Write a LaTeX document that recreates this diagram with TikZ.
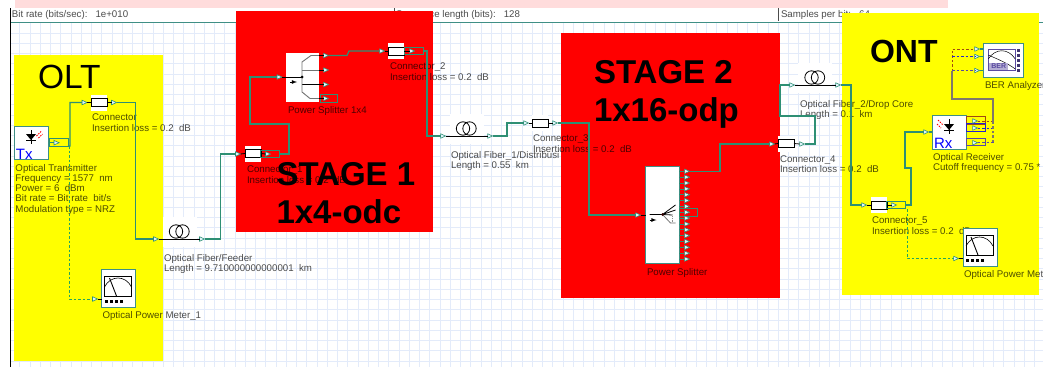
\documentclass[tikz,border=0pt]{standalone}
\usepackage{fontspec}
\setmainfont{Liberation Sans}
\usetikzlibrary{shapes.geometric}

\definecolor{wirecol}{HTML}{2E8F74}
\definecolor{gridcol}{HTML}{E3EBFA}
\definecolor{framecol}{HTML}{3F8F85}
\definecolor{pinkcol}{HTML}{FFDCDC}
\definecolor{oltyellow}{HTML}{FFFF00}
\definecolor{stagered}{HTML}{FF0000}
\definecolor{redwire}{HTML}{A04A10}
\definecolor{bluewire}{HTML}{2424D0}
\definecolor{purpwire}{HTML}{5A4AA0}
\definecolor{greywire}{HTML}{80786A}

\begin{document}
\begin{tikzpicture}[
  x=1pt,y=-1pt,
  every node/.style={inner sep=0pt,outer sep=0pt},
  wire/.style={wirecol,line width=1.2pt},
  stub/.style={black,line width=0.8pt},
  dashwire/.style={wirecol!80!green,line width=1pt,dash pattern=on 2.5pt off 2pt},
  busred/.style={redwire,line width=1pt,dash pattern=on 2.5pt off 2pt},
  busblue/.style={bluewire,line width=1pt,dash pattern=on 2.5pt off 2pt},
  buspurp/.style={purpwire,line width=1pt,dash pattern=on 2.5pt off 2pt},
  panel/.style={anchor=north west,fill=#1},
  port/.style={isosceles triangle,isosceles triangle stretches,minimum width=4.5pt,minimum height=5pt,
    draw=wirecol,fill=cyan!12,line width=0.6pt},
  loopbox/.style={draw=wirecol,line width=1pt,minimum width=19pt,minimum height=7.5pt},
  devlabel/.style={anchor=north west,align=left,text=black,text opacity=.7,
    font=\fontsize{9.7}{10.3}\selectfont},
  toptext/.style={anchor=west,text=black!70,font=\fontsize{9.7}{10.3}\selectfont},
  bigtitle/.style={anchor=north west,align=left,text=black,font=\fontsize{33}{38}\selectfont\bfseries},
  devname/.style={anchor=south west,text=blue,font=\fontsize{15}{15}\selectfont},
  connbox/.style={fill=white,minimum width=16pt,minimum height=16pt},
  fiberbox/.style={fill=white,minimum width=34pt,minimum height=30pt},
  devbox/.style={draw=framecol,fill=white,line width=1pt,minimum width=#1},
  connicon/.pic={
    \draw[black,line width=1pt,fill=white] (0,4) rectangle (16,12);
  },
  fibericon/.pic={
    \draw[black,line width=0.8pt] (13.5,14.5) circle (6.7pt) (20,14.5) circle (6.7pt);
    \draw[black,line width=1pt] (0,22) -- (34,22);
  },
  metericon/.pic={
    \draw[black,line width=0.9pt] (3,7) rectangle (30,27);
    \draw[black,line width=0.6pt] (3,18) .. controls (9,6) and (24,6) .. (30,18);
    \draw[black,line width=0.9pt] (8,9) -- (15,27);
    \foreach \sq in {3,8,13,18} \fill[black] (\sq,31) rectangle ++(3,3);
  },
  bericon/.pic={
    \draw[purpwire,line width=0.8pt] (5,6) rectangle (32,27);
    \draw[black,line width=0.5pt] (5,16) .. controls (12,5) and (25,5) .. (32,16);
    \draw[black,line width=0.5pt] (5,12) .. controls (14,16) and (24,20) .. (32,26);
    \fill[purpwire!45] (6,20) rectangle (25,27);
    \node[text=purpwire,font=\fontsize{7}{7}\selectfont\bfseries] (bertag) at (15.5,23.5) {BER};
    \foreach \sq in {6,11,16,21,26} \fill[purpwire!70!black] (34,\sq) rectangle ++(3,3);
  },
  txicon/.pic={
    \fill[black] (11.5,8) -- (21.5,8) -- (16.5,14) -- cycle;
    \draw[black,line width=1pt] (16.5,4) -- (16.5,18) (11.5,14.5) -- (21.5,14.5);
    \draw[red,line width=0.8pt,dash pattern=on 1.5pt off 1pt] (22,10) -- (27,5) (24,12) -- (28,8);
  },
  rxicon/.pic={
    \fill[black] (12,9) -- (22,9) -- (17,15) -- cycle;
    \draw[black,line width=1pt] (17,4) -- (17,19) (12,15.5) -- (22,15.5);
    \draw[red,line width=0.8pt,dash pattern=on 1.5pt off 1pt] (6,5) -- (11,10) (5,9) -- (9,13);
  },
  splitaicon/.pic={
    \draw[black!55,line width=0.9pt] (33,2.5) -- (25,2.5) -- (16,9) -- (16,24);
    \draw[black!55,line width=0.9pt] (16,17) -- (33,17);
    \draw[black,line width=0.9pt] (16,31.5) -- (33,31.5) (0,24) -- (16,24);
    \draw[black!55,line width=0.9pt] (16,24) -- (16,39) -- (24,45.5) -- (33,45.5);
    \fill[black] (16,24) circle (1.5pt);
    \draw[black,line width=0.8pt,-latex] (4,29) -- (11,29);
  },
  splitbicon/.pic={
    \draw[black,line width=0.8pt] (4,48.5) -- (17,48.5) -- (30,39) (17,48.5) -- (30,44) (17,48.5) -- (27,49);
    \draw[black!55,line width=0.8pt] (17,48.5) -- (25,57) -- (30,57);
    \draw[black!45,line width=0.8pt,densely dotted] (27,50) -- (27,56);
    \fill[black!80!red] (17,48.5) circle (1.5pt);
    \draw[black,line width=0.8pt,-latex] (4,54) -- (11,54);
  }
]
  \useasboundingbox (0,0) rectangle (1043,367);
  \clip (0,0) rectangle (1043,367);

  % sheet
  \foreach \gx in {1,...,100} \draw[gridcol,line width=0.9pt] ({9.5+10.25*\gx},22) -- ({9.5+10.25*\gx},367);
  \foreach \gy in {0,...,33} \draw[gridcol,line width=0.9pt] (10,{22.8+10.25*\gy}) -- (1043,{22.8+10.25*\gy});
  \node[panel=pinkcol,minimum width=933pt,minimum height=8pt] (pinkbar) at (15,0) {};
  \node[panel=white,minimum width=1033pt,minimum height=14pt] (headbar) at (10,8) {};
  \draw[framecol,line width=0.8pt] (headbar.south west) -- (headbar.south east);
  \draw[black,line width=1pt] (headbar.north west) -- (10,367);
  \draw[black!70,line width=0.7pt] (394,8) -- (394,21) (778,8) -- (778,21);
  \node[toptext] (bitrate) at (12,15) {Bit rate (bits/sec):~~~1e+010};
  \node[toptext] (seqlen) at (396,15) {Sequence length (bits):~~~128};
  \node[toptext] (samples) at (781,15) {Samples per bit:~~~64};

  % coloured panels
  \node[panel=oltyellow,minimum width=149pt,minimum height=306pt] (olt) at (14,55) {};
  \node[panel=stagered,minimum width=197pt,minimum height=221pt] (stageone) at (236,11) {};
  \node[panel=stagered,minimum width=219pt,minimum height=265pt] (stagetwo) at (561,33) {};
  \node[panel=oltyellow,minimum width=197pt,minimum height=282pt] (ont) at (842,13) {};

  % labels
  \node[devlabel] (txtext) at (15.5,164) {Optical Transmitter\\Frequency = 1577~~nm\\Power = 6~~dBm\\Bit rate = Bit rate~~bit/s\\Modulation type = NRZ};
  \node[devlabel] (conntext) at (92,114) {Connector\\Insertion loss = 0.2~~dB};
  \node[devlabel] (pmtext) at (102.5,311) {Optical Power Meter\_1};
  \node[devlabel] (feedtext) at (164,254) {Optical Fiber/Feeder\\Length = 9.710000000000001~~km};
  \node[devlabel] (conatext) at (247,166) {Connector\_1\\Insertion loss = 0.2~~dB};
  \node[devlabel] (splatext) at (288,106) {Power Splitter 1x4};
  \node[devlabel] (conbtext) at (390,63) {Connector\_2\\Insertion loss = 0.2~~dB};
  \node[devlabel] (fibatext) at (451,151) {Optical Fiber\_1/Distribusi\\Length = 0.55~~km};
  \node[devlabel] (conctext) at (533,135) {Connector\_3\\Insertion loss = 0.2~~dB};
  \node[devlabel] (splbtext) at (647,268) {Power Splitter};
  \node[devlabel] (fibbtext) at (800,100) {Optical Fiber\_2/Drop Core\\Length = 0.1~~km};
  \node[devlabel] (condtext) at (780,155.5) {Connector\_4\\Insertion loss = 0.2~~dB};
  \node[devlabel] (rxtext) at (933,153) {Optical Receiver\\Cutoff frequency = 0.75 *};
  \node[devlabel] (conetext) at (872,217) {Connector\_5\\Insertion loss = 0.2~~dB};
  \node[devlabel] (pmbtext) at (964,270) {Optical Power Meter};
  \node[devlabel] (bertext) at (985,81) {BER Analyzer};

  % devices
  \node[devbox=34pt,minimum height=33pt] (tx) at (31.5,142.5) {};
  \pic at (tx.north west) {txicon};
  \node[devname] (txname) at (16,159) {Tx};
  \node[connbox] (conn) at (99,102.5) {};
  \pic at (conn.north west) {connicon};
  \node[fiberbox] (feeder) at (179.5,232) {};
  \pic at (feeder.north west) {fibericon};
  \node[devbox=34pt,minimum height=38pt] (meter) at (118.5,288) {};
  \pic at (meter.north west) {metericon};
  \node[connbox] (conna) at (253,153.5) {};
  \pic at (conna.north west) {connicon};
  \node[fill=white,minimum width=33pt,minimum height=49pt] (splita) at (302.5,77.5) {};
  \pic at (splita.north west) {splitaicon};
  \node[connbox] (connb) at (396,51) {};
  \pic at (connb.north west) {connicon};
  \node[fiberbox] (fibera) at (466.5,129) {};
  \pic at (fibera.north west) {fibericon};
  \node[connbox] (connc) at (540,123) {};
  \pic at (connc.north west) {connicon};
  \node[devbox=33.5pt,minimum height=97pt] (splitb) at (662.25,214.5) {};
  \pic at (splitb.north west) {splitbicon};
  \node[connbox] (connd) at (786,143.5) {};
  \pic at (connd.north west) {connicon};
  \node[fiberbox] (fiberb) at (815,78) {};
  \pic at (fiberb.north west) {fibericon};
  \node[connbox] (conne) at (879,205) {};
  \pic at (conne.north west) {connicon};
  \node[devbox=34pt,minimum height=34pt] (rx) at (949,132) {};
  \pic at (rx.north west) {rxicon};
  \node[devname] (rxname) at (934,148) {Rx};
  \node[devbox=34pt,minimum height=38pt] (meterb) at (980,247) {};
  \pic at (meterb.north west) {metericon};
  \node[devbox=40.5pt,minimum height=34pt] (ber) at (1003.5,60) {};
  \pic at (ber.north west) {bericon};

  % small loops on outputs
  \node[loopbox] (txloop) at (58.5,142.5) {};
  \node[loopbox] (connaloop) at (270,154) {};
  \node[loopbox,minimum width=17pt] (splitaloop) at (328.5,98.5) {};
  \node[loopbox] (connbloop) at (413.5,51) {};
  \node[loopbox,minimum width=18pt] (splitbloop) at (688,212.25) {};
  \node[loopbox] (conneloop) at (896,205) {};
  \node[loopbox,draw=redwire] (rxloopa) at (976,120.5) {};
  \node[loopbox,draw=bluewire] (rxloopb) at (976,127.5) {};
  \node[loopbox,draw=purpwire] (rxloopc) at (976,142) {};

  % ports
  \node[port] (txout) at (55.5,142.7) {};
  \node[port] (connin) at (83.5,102.5) {};
  \node[port] (connout) at (113,102.5) {};
  \node[port] (feederin) at (155,239) {};
  \node[port] (feederout) at (201,239) {};
  \node[port] (meterin) at (94,299) {};
  \node[port] (connain) at (237,154) {};
  \node[port] (connaout) at (267,154) {};
  \node[port] (splitain) at (278.5,77) {};
  \node[port] (splitaa) at (325,55.5) {};
  \node[port] (splitab) at (325,70) {};
  \node[port] (splitac) at (325,84.5) {};
  \node[port] (splitad) at (325,98.5) {};
  \node[port] (connbin) at (381,51) {};
  \node[port] (connbout) at (411,51) {};
  \node[port] (fiberain) at (442,136) {};
  \node[port] (fiberaout) at (489,136) {};
  \node[port] (conncin) at (525,123) {};
  \node[port] (conncout) at (554,123) {};
  \node[port] (splitbin) at (637,215) {};
  \foreach \k in {0,...,15} {
    \draw[wirecol,line width=0.7pt] (679,{171.3+5.85*\k}) -- (684,{171.3+5.85*\k});
    \node[port] (splitbo\k) at (686,{171.3+5.85*\k}) {};
  }
  \node[port] (conndin) at (771,144) {};
  \node[port] (conndout) at (801,144) {};
  \node[port] (fiberbin) at (791,85) {};
  \node[port] (fiberbout) at (837,85) {};
  \node[port] (connein) at (863,205) {};
  \node[port] (conneout) at (893,205) {};
  \node[port] (rxin) at (925,132) {};
  \node[port] (rxouta) at (974,121) {};
  \node[port] (rxoutb) at (974,128) {};
  \node[port] (rxoutc) at (974,142.7) {};
  \node[port] (berina) at (976,49) {};
  \node[port] (berinb) at (976,56.5) {};
  \node[port] (berinc) at (976,70.5) {};
  \node[port] (meterbin) at (955,258.5) {};

  % stubs between ports and devices
  \draw[stub] (conn.east) -- (connout.west) (connin.east) -- (conn.west);
  \draw[stub] (conna.east) -- (connaout.west) (connain.east) -- (conna.west);
  \draw[stub] (connb.east) -- (connbout.west) (connbin.east) -- (connb.west);
  \draw[stub] (connc.east) -- (conncout.west) (conncin.east) -- (connc.west);
  \draw[stub] (connd.east) -- (conndout.west) (conndin.east) -- (connd.west);
  \draw[stub] (conne.east) -- (conneout.west) (connein.east) -- (conne.west);
  \draw[stub] (feederin.east) -- (feeder.south west |- feederin) (feeder.south east |- feederout) -- (feederout.west);
  \draw[stub] (fiberain.east) -- (fibera.south west |- fiberain) (fibera.south east |- fiberaout) -- (fiberaout.west);
  \draw[stub] (fiberbin.east) -- (fiberb.south west |- fiberbin) (fiberb.south east |- fiberbout) -- (fiberbout.west);
  \draw[stub] (splitain.east) -- (splita.west |- splitain);
  \draw[stub] (splita.east |- splitaa) -- (splitaa.west) (splita.east |- splitab) -- (splitab.west);
  \draw[stub] (splita.east |- splitac) -- (splitac.west) (splita.east |- splitad) -- (splitad.west);
  \draw[stub] (splitbin.east) -- (splitb.west |- splitbin);
  \draw[stub] (meterin.east) -- (meter.west |- meterin);
  \draw[stub] (meterbin.east) -- (meterb.west |- meterbin);
  \draw[wire] (tx.east |- txout) -- (txout.west);
  \draw[wire] (rxin.east) -- (rx.west);
  \draw[wire] (berina.east) -- (ber.west |- berina) (berinb.east) -- (ber.west |- berinb) (berinc.east) -- (ber.west |- berinc);

  % connectors
  \draw[wire] (txloop.south east) -- (70,146) |- (connin.west);
  \draw[wire] (connout.east) -- (135.5,102.5) |- (feederin.west);
  \draw[wire] (feederout.east) -- (220.5,239) |- (connain.west);
  \draw[wire] (connaloop.east) -- (289,154) -- (289,124) -- (250,124) |- (splitain.west);
  \draw[wire] (splitaa.east) -- (347,55.5) -- (349,51) -- (connbin.west);
  \draw[wire] (connbloop.east) -- (427,51) |- (fiberain.west);
  \draw[wire] (fiberaout.east) -- (507,136) |- (conncin.west);
  \draw[wire] (conncout.east) -- (589,123) |- (splitbin.west);
  \draw[wire] (splitbo0.east) -- (720,171.3) |- (conndin.west);
  \draw[wire] (conndout.east) -- (815,144) -- (815,116) -- (780,116) |- (fiberbin.west);
  \draw[wire] (fiberbout.east) -- (851,85) |- (connein.west);
  \draw[wire] (conneloop.east) -- (911,205) -- (911,168) -- (905,168) |- (rxin.west);
  \draw[dashwire] (69,146) |- (meterin.west);
  \draw[dashwire] (907,209) |- (meterbin.west);
  \draw[busred] (rxouta.east) -- (993,121);
  \draw[busblue] (rxoutb.east) -- (994,128);
  \draw[buspurp] (rxoutc.east) -- (994,142.7);
  \draw[greywire,line width=1.2pt] (993,122) -- (993,99) -- (952,99) -- (952,71);
  \draw[greywire,line width=1.2pt,dash pattern=on 2.5pt off 2pt] (993,142) -- (993,122);
  \draw[redwire,line width=1pt,dash pattern=on 2.5pt off 2pt] (952,71) |- (berina.west);
  \draw[busblue] (952,56.5) -- (berinb.west);
  \draw[buspurp] (952,70.5) -- (berinc.west);

  % titles
  \node[anchor=north west,text=black,font=\fontsize{33.5}{38}\selectfont] (olttitle) at (38,65) {OLT};
  \node[bigtitle] (stageonetitle) at (276.5,162) {STAGE 1\\1x4-odc};
  \node[bigtitle] (stagetwotitle) at (594,60) {STAGE 2\\1x16-odp};
  \node[bigtitle,font=\fontsize{32}{38}\selectfont\bfseries] (onttitle) at (870,40) {ONT};
\end{tikzpicture}
\end{document}
